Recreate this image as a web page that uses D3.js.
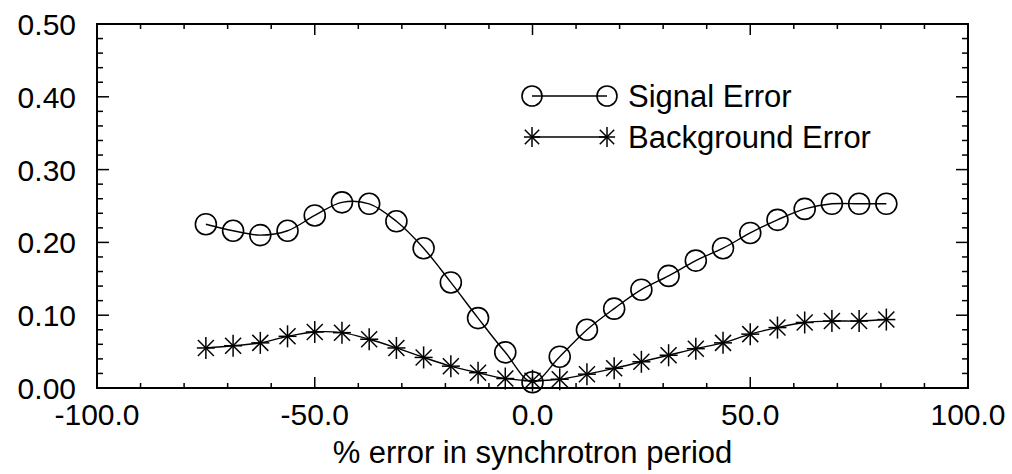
<!DOCTYPE html>
<html>
<head>
<meta charset="utf-8">
<script src="https://d3js.org/d3.v7.min.js"></script>
<style>
  html, body { margin: 0; padding: 0; background: #fff; }
  svg text { font-family: "Liberation Sans", Arial, Helvetica, sans-serif; fill: #000; }
</style>
</head>
<body>
<svg id="chart" width="1012" height="474"></svg>
<script>
// Period error (%) at which each point was evaluated
const periodError = [-75, -68.75, -62.5, -56.25, -50, -43.75, -37.5, -31.25, -25, -18.75, -12.5, -6.25,
  0, 6.25, 12.5, 18.75, 25, 31.25, 37.5, 43.75, 50, 56.25, 62.5, 68.75, 75, 81.25];

const signalError = [0.225, 0.216, 0.210, 0.216, 0.237, 0.255, 0.253, 0.229, 0.192, 0.145, 0.096, 0.049,
  0.008, 0.043, 0.080, 0.109, 0.135, 0.154, 0.175, 0.192, 0.213, 0.231, 0.246, 0.253, 0.253, 0.253];

const backgroundError = [0.055, 0.058, 0.062, 0.071, 0.077, 0.076, 0.067, 0.055, 0.042, 0.030, 0.021, 0.013,
  0.010, 0.012, 0.019, 0.027, 0.036, 0.045, 0.054, 0.062, 0.074, 0.083, 0.090, 0.092, 0.092, 0.094];

const xTickValues = [-100, -50, 0, 50, 100];
const yTickValues = [0, 0.1, 0.2, 0.3, 0.4, 0.5];
const seriesNames = ["Signal Error", "Background Error"];
const xTitle = "% error in synchrotron period";

const svg = d3.select("#chart");
const m = { left: 97, top: 24, right: 44, bottom: 86 };
const W = 1012, H = 474;
const x = d3.scaleLinear().domain([-100, 100]).range([m.left, W - m.right]);
const y = d3.scaleLinear().domain([0, 0.5]).range([H - m.bottom, m.top]);

const x0 = x.range()[0], x1 = x.range()[1], y0 = y.range()[0], y1 = y.range()[1];

// Minor ticks every 10 % on x and every 0.02 on y
const xMinor = d3.range(-100, 100.001, 10);
const yMinor = d3.range(0, 0.5001, 0.02);

const axisG = svg.append("g").attr("stroke", "#000").attr("fill", "none");

// Inward ticks on all four sides
xMinor.forEach(v => {
  const major = Math.abs(v % 50) < 1e-6;
  const len = major ? 11 : 5;
  axisG.append("line").attr("x1", x(v)).attr("x2", x(v)).attr("y1", y0).attr("y2", y0 - len).attr("stroke-width", 1.5);
  axisG.append("line").attr("x1", x(v)).attr("x2", x(v)).attr("y1", y1).attr("y2", y1 + len).attr("stroke-width", 1.5);
});
yMinor.forEach(v => {
  const major = Math.abs(Math.round(v * 100) % 10) < 1e-6;
  const len = major ? 12 : 6;
  axisG.append("line").attr("x1", x0).attr("x2", x0 + len).attr("y1", y(v)).attr("y2", y(v)).attr("stroke-width", 1.5);
  axisG.append("line").attr("x1", x1).attr("x2", x1 - len).attr("y1", y(v)).attr("y2", y(v)).attr("stroke-width", 1.5);
});

// Frame
axisG.append("rect").attr("x", x0).attr("y", y1).attr("width", x1 - x0).attr("height", y0 - y1)
  .attr("stroke-width", 2);

// Tick labels (plain hyphen for negatives)
svg.append("g").selectAll("text").data(xTickValues).join("text")
  .attr("x", d => x(d)).attr("y", y0 + 37)
  .attr("text-anchor", "middle").attr("font-size", 30)
  .text(d => d.toFixed(1));

svg.append("g").selectAll("text").data(yTickValues).join("text")
  .attr("x", 76).attr("y", d => y(d) + 11)
  .attr("text-anchor", "end").attr("font-size", 30)
  .text(d => d.toFixed(2));

svg.append("text").attr("x", (x0 + x1) / 2).attr("y", 463)
  .attr("text-anchor", "middle").attr("font-size", 31).text(xTitle);

// Data curves
const line = d3.line().curve(d3.curveCatmullRom.alpha(0.5));
const sigPts = periodError.map((p, i) => [x(p), y(signalError[i])]);
const bgPts = periodError.map((p, i) => [x(p), y(backgroundError[i])]);

const plot = svg.append("g").attr("fill", "none").attr("stroke", "#000");
plot.append("path").attr("d", line(sigPts)).attr("stroke-width", 1.4);
plot.append("path").attr("d", line(bgPts)).attr("stroke-width", 1.4);

function circleMark(g, cx, cy, r) {
  g.append("circle").attr("cx", cx).attr("cy", cy).attr("r", r)
    .attr("fill", "none").attr("stroke", "#000").attr("stroke-width", 1.6);
}
function starMark(g, cx, cy, s) {
  const arms = [[0, 1.1], [0.9, 0], [0.8, 0.8], [0.8, -0.8]];
  arms.forEach(([dx, dy]) => {
    g.append("line")
      .attr("x1", cx - dx * s).attr("y1", cy - dy * s)
      .attr("x2", cx + dx * s).attr("y2", cy + dy * s)
      .attr("stroke", "#000").attr("stroke-width", 1.5);
  });
}

sigPts.forEach(([cx, cy]) => circleMark(plot, cx, cy, 10.5));
bgPts.forEach(([cx, cy]) => starMark(plot, cx, cy, 10));

// Legend
const leg = svg.append("g");
const lx0 = 532, lx1 = 607, lyS = 96, lyB = 137;
leg.append("line").attr("x1", lx0).attr("x2", lx1).attr("y1", lyS).attr("y2", lyS).attr("stroke", "#000").attr("stroke-width", 1.4);
circleMark(leg, lx0, lyS, 10);
circleMark(leg, lx1, lyS, 10);
leg.append("line").attr("x1", lx0).attr("x2", lx1).attr("y1", lyB).attr("y2", lyB).attr("stroke", "#000").attr("stroke-width", 1.4);
starMark(leg, lx0, lyB, 9);
starMark(leg, lx1, lyB, 9);
leg.append("text").attr("x", 628).attr("y", lyS + 11).attr("font-size", 31).text(seriesNames[0]);
leg.append("text").attr("x", 628).attr("y", lyB + 11).attr("font-size", 31).text(seriesNames[1]);
</script>
</body>
</html>
